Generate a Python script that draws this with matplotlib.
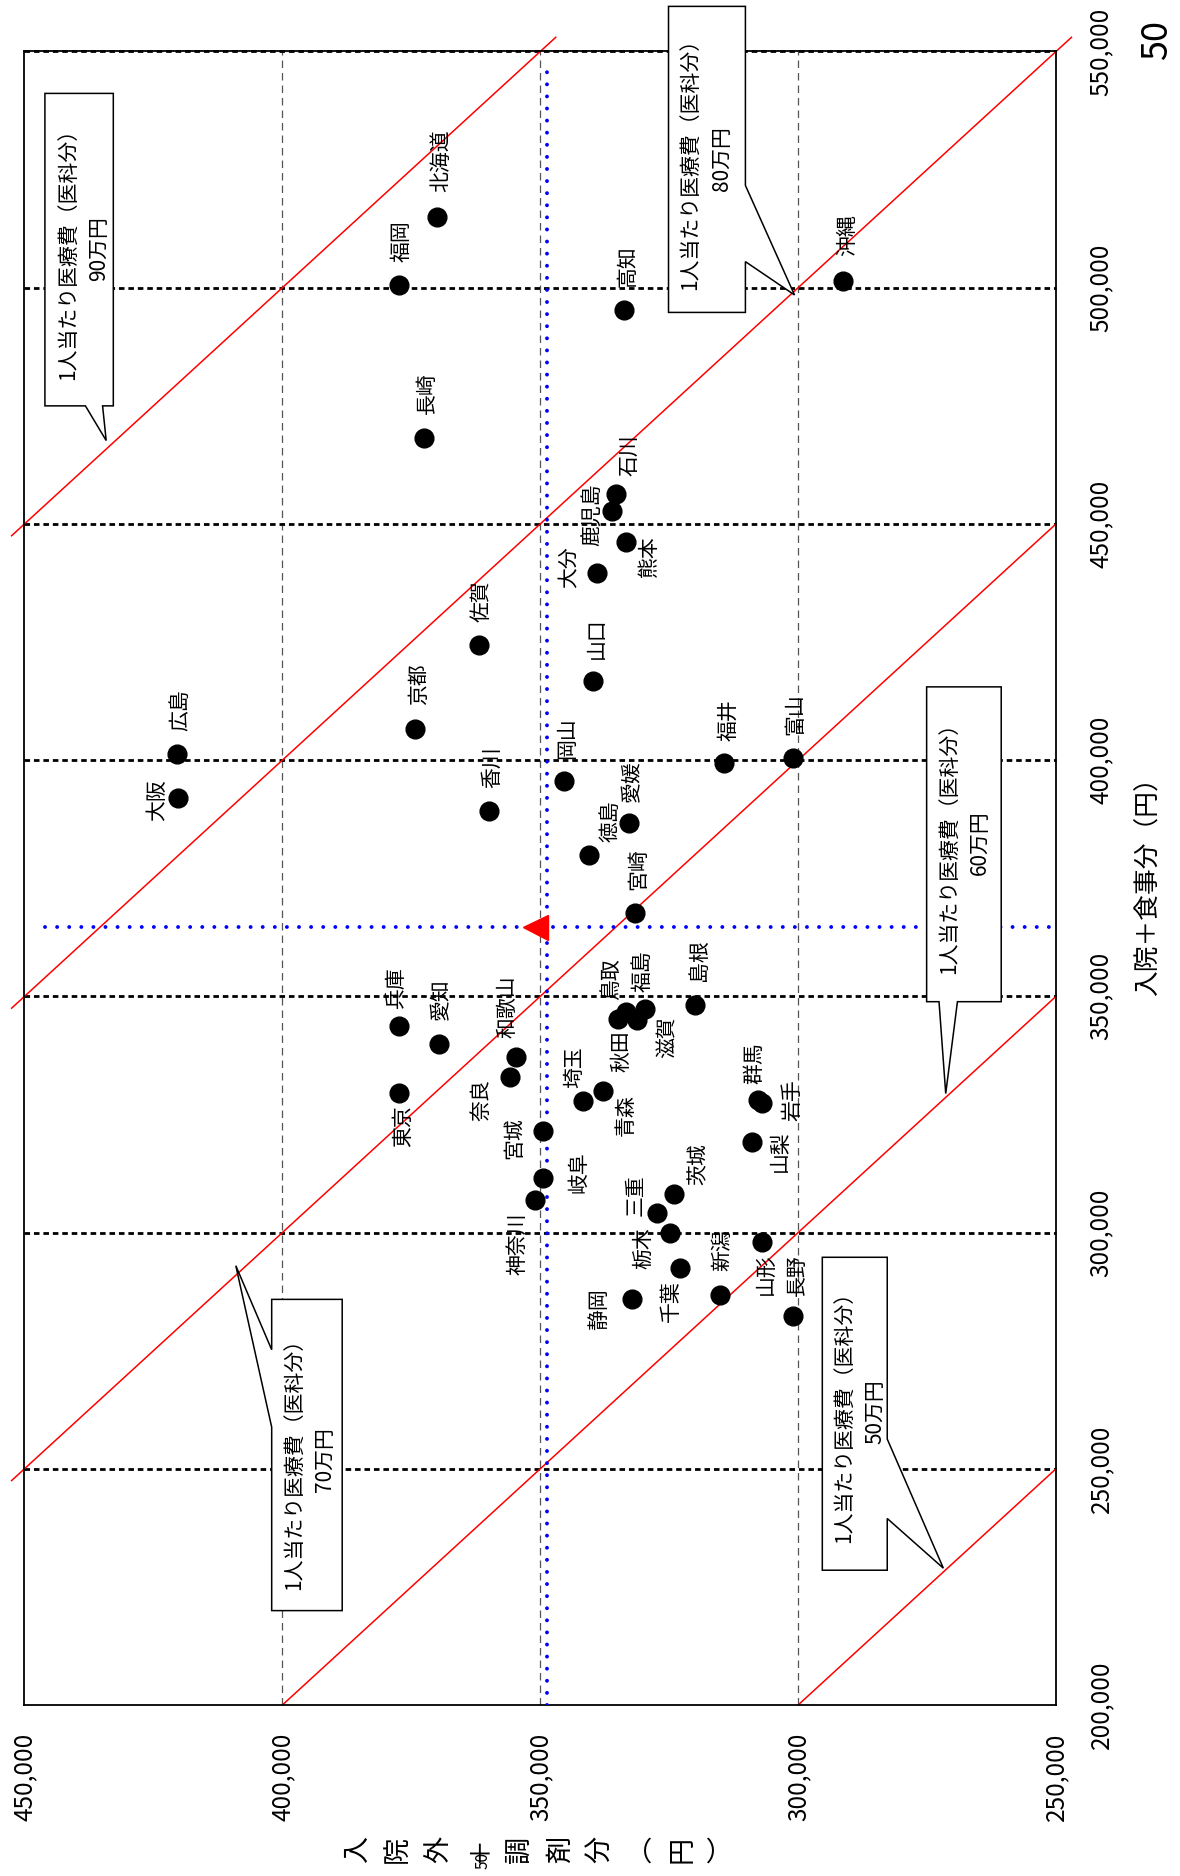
import matplotlib
matplotlib.use('Agg')
import matplotlib.pyplot as plt
from matplotlib.patches import Polygon
from matplotlib.ticker import FuncFormatter

plt.rcParams['font.family'] = ['Noto Sans CJK JP', 'DejaVu Sans']

# 都道府県
prefs = ['北海道', '青森', '岩手', '宮城', '秋田', '山形', '福島', '茨城', '栃木', '群馬',
         '埼玉', '千葉', '東京', '神奈川', '新潟', '富山', '石川', '福井', '山梨', '長野',
         '岐阜', '静岡', '愛知', '三重', '滋賀', '京都', '大阪', '兵庫', '奈良', '和歌山',
         '鳥取', '島根', '岡山', '広島', '山口', '徳島', '香川', '愛媛', '高知', '福岡',
         '佐賀', '長崎', '熊本', '大分', '宮崎', '鹿児島', '沖縄']
# 入院＋食事分（円）
nyuin = [515000, 329900, 327500, 321400, 345300, 298000, 347400, 308200, 300000, 328000,
         327800, 292500, 329500, 307000, 286800, 400500, 456300, 399300, 319100, 282400,
         311600, 285900, 339900, 304200, 345100, 406600, 391900, 343800, 332900, 337200,
         346700, 348100, 395500, 401200, 416700, 379900, 389200, 386600, 495300, 500600,
         424400, 468200, 446200, 439600, 367700, 452800, 501500]
# 入院外＋調剤分（円）
gairai = [370100, 337800, 307000, 349500, 335000, 307100, 329600, 324100, 324900, 307800,
          341800, 322900, 377300, 351000, 315200, 301000, 335300, 314300, 309000, 301000,
          349500, 332200, 369700, 327300, 331300, 374200, 420200, 377300, 355900, 354700,
          333300, 320000, 345400, 420400, 339700, 340600, 359900, 332800, 333700, 377400,
          361900, 372600, 333300, 339000, 331600, 336100, 291300]

# 全国
zenkoku_nyuin = 364700
zenkoku_gairai = 351000
ref_nyuin = 364700
ref_gairai = 348700

# 1人当たり医療費（医科分）の等高線
totals = [500000, 600000, 700000, 800000, 900000]
total_labels = ['50万円', '60万円', '70万円', '80万円', '90万円']

# label offsets in pixels (right, down) from the point
label_off = {
    '北海道': (5, -56), '青森': (23, 24), '岩手': (30, -3), '宮城': (-29, 7),
    '秋田': (4, 33), '山形': (4, 32), '福島': (-3, -38), '茨城': (25, -30),
    '栃木': (-26, 16), '群馬': (-3, -37), '埼玉': (-8, -34), '千葉': (-9, 33),
    '東京': (4, 33), '神奈川': (-18, 44), '新潟': (3, -45), '富山': (2, -44),
    '石川': (13, -39), '福井': (4, -43), '山梨': (28, 9), '長野': (4, -41),
    '岐阜': (36, -6), '静岡': (-33, 10), '愛知': (3, -45), '三重': (-22, -18),
    '滋賀': (31, 18), '京都': (4, -45), '大阪': (-21, 2), '兵庫': (-4, -39),
    '奈良': (-28, 23), '和歌山': (-9, -50), '鳥取': (-15, -33), '島根': (4, -45),
    '岡山': (3, -43), '広島': (3, -44), '山口': (3, -43), '徳島': (22, -34),
    '香川': (3, -44), '愛媛': (3, -42), '高知': (3, -44), '福岡': (3, -44),
    '佐賀': (3, -44), '長崎': (3, -45), '熊本': (23, 15), '大分': (-27, -6),
    '宮崎': (3, -44), '鹿児島': (-20, 4), '沖縄': (4, -45),
}

# callout boxes: (left, right, bottom, top), tail side, tail base, tail tip, text pos
callouts = {
    900000: ((446040, 432780, 474990, 541130), 'bottom', (438190, 434860),
             (434160, 467650), (438400, 508190)),
    800000: ((325130, 310220, 494770, 559550), 'right', (521650, 505520),
             (300700, 498470), (317740, 527350)),
    700000: ((402070, 388400, 219980, 285860), 'left', (275200, 258810),
             (409030, 292990), (394640, 252030)),
    600000: ((275080, 260620, 348870, 415510), 'bottom', (272680, 269110),
             (271380, 329430), (267640, 382440)),
    500000: ((295310, 282720, 228530, 294770), 'right', (256290, 239480),
             (271840, 228960), (287900, 262000)),
}


def callout_poly(box, side, base, tip):
    l, r, b, t = box
    pts = [(l, t), (r, t)]
    if side == 'right':
        hi, lo = max(base), min(base)
        pts += [(r, hi), tip, (r, lo)]
    pts.append((r, b))
    if side == 'bottom':
        near_r, near_l = min(base), max(base)
        pts += [(near_r, b), tip, (near_l, b)]
    pts.append((l, b))
    if side == 'left':
        lo, hi = min(base), max(base)
        pts += [(l, lo), tip, (l, hi)]
    return pts


fig = plt.figure(figsize=(11.8, 18.76), dpi=100)
ax = fig.add_axes([0.02076, 0.09115, 0.87415, 0.8814])
ax.set_xlim(450000, 250000)
ax.set_ylim(200000, 550000)

# grid
for v in [400000, 350000, 300000]:
    ax.axvline(v, color='#555555', lw=0.9, ls=(0, (6, 4)), zorder=1)
for u in [250000, 300000, 350000, 400000, 450000, 500000, 550000]:
    ax.axhline(u, color='black', lw=2.0, ls=(0, (2, 1.4)), zorder=1, clip_on=False)

# red lines x + y = total
for T in totals:
    u_lo = max(200000, T - 452500)
    u_hi = 553000 if T - 250000 >= 550000 else T - 250000
    ax.plot([T - u_lo, T - u_hi], [u_lo, u_hi], color='red', lw=1.1,
            clip_on=False, zorder=2)

# blue reference lines
ax.plot([ref_gairai, ref_gairai], [200000, 547000], color='#0000ff', lw=2.8,
        ls=(0, (0.01, 3.1)), dash_capstyle='round', zorder=3)
ax.plot([446000, 250000], [ref_nyuin, ref_nyuin], color='#0000ff', lw=2.8,
        ls=(0, (0.01, 3.1)), dash_capstyle='round', zorder=3)

# points
ax.plot(gairai, nyuin, 'o', color='black', ms=13.5, zorder=4)
ax.plot(zenkoku_gairai, zenkoku_nyuin, marker='<', color='red', ms=18, zorder=5,
        linestyle='none')

for name, x, y in zip(prefs, gairai, nyuin):
    dx, dy = label_off[name]
    ax.annotate(name, (x, y), xytext=(dx, -dy), textcoords='offset pixels',
                rotation=90, ha='center', va='center', fontsize=15, zorder=6)

# callouts
for T, lab in zip(totals, total_labels):
    box, side, base, tip, tpos = callouts[T]
    poly = Polygon(callout_poly(box, side, base, tip), closed=True, fc='white',
                   ec='black', lw=1.1, clip_on=False, zorder=7)
    ax.add_patch(poly)
    ax.text(tpos[0], tpos[1], '1人当たり医療費（医科分）\n' + lab, rotation=90,
            ha='center', va='center', multialignment='center', fontsize=15,
            linespacing=1.5, zorder=8)

# axes
for s in ax.spines.values():
    s.set_linewidth(1.3)
    s.set_zorder(2.5)
ax.yaxis.tick_right()
fmt = FuncFormatter(lambda val, pos: '{:,}'.format(int(val)))
ax.set_xticks([450000, 400000, 350000, 300000, 250000])
ax.set_yticks([200000, 250000, 300000, 350000, 400000, 450000, 500000, 550000])
ax.xaxis.set_major_formatter(fmt)
ax.yaxis.set_major_formatter(fmt)
ax.tick_params(axis='x', length=0, pad=20, labelsize=17.5, labelrotation=90)
ax.tick_params(axis='y', length=0, pad=23, labelsize=17.5, labelrotation=90)
for t in ax.get_yticklabels():
    t.set_va('center')

fig.text(1149 / 1180, 1 - 880 / 1876, '入院＋食事分（円）', rotation=90,
         ha='center', va='center', fontsize=18.5)
fig.text(540 / 1180, 1 - 1849 / 1876, '入\n院\n外\n＋\n調\n剤\n分\n︵\n円\n︶',
         rotation=90, ha='center', va='center', multialignment='center',
         fontsize=19.5, linespacing=1.65)
fig.text(483 / 1180, 1 - 1860 / 1876, '50', rotation=90, ha='center', va='center',
         fontsize=11)
fig.text(1157 / 1180, 1 - 40 / 1876, '50', rotation=90, ha='center', va='center',
         fontsize=26)

fig.savefig('out.png', dpi=100)
